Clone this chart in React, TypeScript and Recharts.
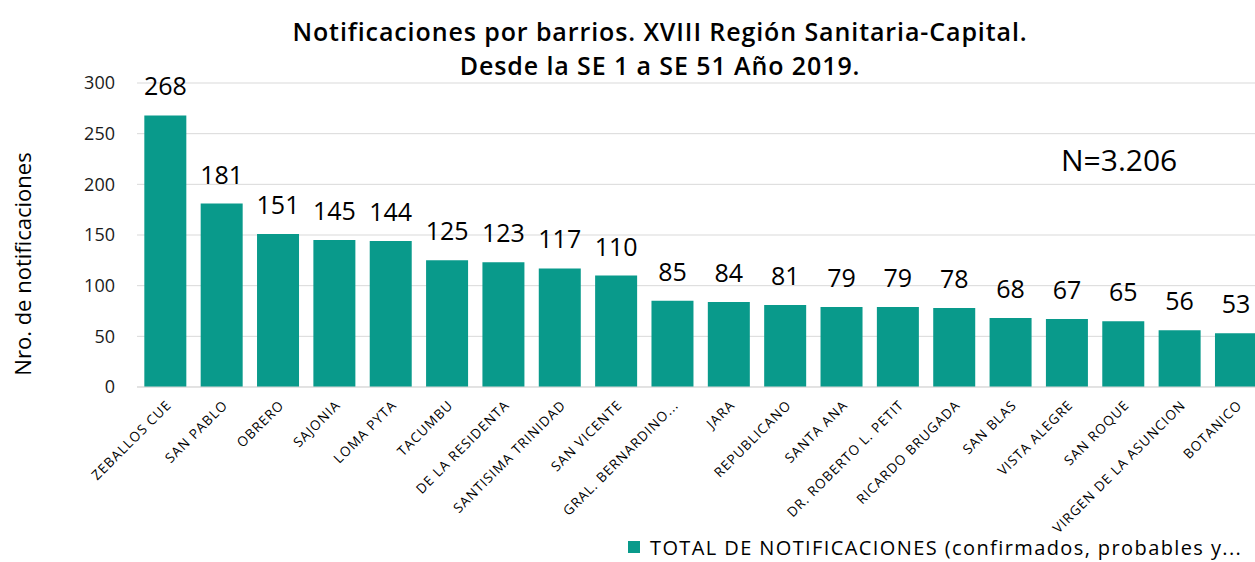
import React from "react";
import { BarChart, Bar, XAxis, YAxis, CartesianGrid, LabelList, Legend } from "recharts";

const categories = [
  "ZEBALLOS CUE", "SAN PABLO", "OBRERO", "SAJONIA", "LOMA PYTA", "TACUMBU",
  "DE LA RESIDENTA", "SANTISIMA TRINIDAD", "SAN VICENTE", "GRAL. BERNARDINO...",
  "JARA", "REPUBLICANO", "SANTA ANA", "DR. ROBERTO L. PETIT", "RICARDO BRUGADA",
  "SAN BLAS", "VISTA ALEGRE", "SAN ROQUE", "VIRGEN DE LA ASUNCION", "BOTANICO",
];
const totals = [268, 181, 151, 145, 144, 125, 123, 117, 110, 85, 84, 81, 79, 79, 78, 68, 67, 65, 56, 53];
const yTicks = [0, 50, 100, 150, 200, 250, 300];
const seriesName = "TOTAL DE NOTIFICACIONES (confirmados, probables y...";
const titleLines = ["Notificaciones por barrios. XVIII Región Sanitaria-Capital.", "Desde la SE 1 a SE 51 Año 2019."];
const nLabel = "N=3.206";
const yAxisTitle = "Nro. de notificaciones";

const data = categories.map((c, i) => ({ name: c, value: totals[i] }));

const FONT = "'Open Sans', 'Noto Sans', sans-serif";
const COLOR = "#099A8B";

const XTick = (props: any) => {
  const { x, y, payload } = props;
  return (
    <g transform={`translate(${x + 7},${y + 11})`}>
      <text transform="rotate(-45)" textAnchor="end" fontSize={13.5} letterSpacing={1} fill="#000" fontFamily={FONT}>
        {payload.value}
      </text>
    </g>
  );
};

const LegendContent = () => (
  <div style={{ display: "flex", alignItems: "center", height: 24, marginTop: 3, marginLeft: 628, fontFamily: FONT, fontSize: 20, letterSpacing: 1.4, color: "#000", whiteSpace: "nowrap" }}>
    <span style={{ display: "inline-block", width: 12, height: 12, background: COLOR, marginRight: 10 }} />
    <span>{seriesName}</span>
  </div>
);

const YTitle = () => (
  <text transform="translate(31,264) rotate(-90)" textAnchor="middle" fontSize={22} fill="#000" fontFamily={FONT}>
    {yAxisTitle}
  </text>
);

export default function App() {
  return (
    <div style={{ position: "absolute", top: 0, left: 0, width: 1255, height: 562, background: "#fff", fontFamily: FONT, overflow: "hidden" }}>
      <div style={{ position: "absolute", top: 14, left: 0, width: 1255, paddingLeft: 65, boxSizing: "border-box", textAlign: "center", fontSize: 25, fontWeight: 600, lineHeight: "34px", color: "#000", letterSpacing: 0.9, zIndex: 2 }}>
        {titleLines.map((t) => (<div key={t}>{t}</div>))}
      </div>
      <div style={{ position: "absolute", top: 140, left: 1061, fontSize: 30, lineHeight: "40px", color: "#000", zIndex: 2 }}>{nLabel}</div>
      <BarChart width={1264} height={562} data={data} margin={{ top: 83, right: 0, left: 0, bottom: 0 }} barCategoryGap="13%">
        <CartesianGrid vertical={false} stroke="#D9D9D9" />
        <XAxis dataKey="name" interval={0} tick={<XTick />} tickLine={false} axisLine={{ stroke: "#D9D9D9" }} height={145} />
        <YAxis
          domain={[0, 300]}
          ticks={yTicks}
          width={137}
          tickLine={false}
          axisLine={false}
          tickMargin={16}
          tick={{ fontSize: 18, fill: "#1a1a1a", fontFamily: FONT }}
          label={<YTitle />}
        />
        <Legend verticalAlign="bottom" height={30} content={<LegendContent />} />
        <Bar dataKey="value" name={seriesName} fill={COLOR} isAnimationActive={false}>
          <LabelList dataKey="value" position="top" offset={20} style={{ fontSize: 25, fill: "#000", fontFamily: FONT }} />
        </Bar>
      </BarChart>
    </div>
  );
}
